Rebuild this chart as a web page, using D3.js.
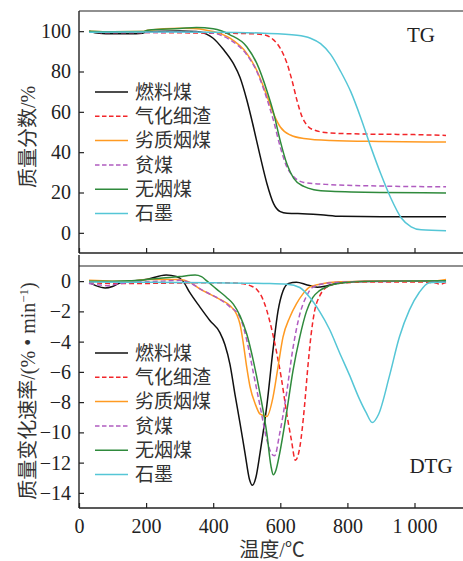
<!DOCTYPE html>
<html>
<head>
<meta charset="utf-8">
<script src="https://cdn.jsdelivr.net/npm/d3@7"></script>
<style>
  body { margin: 0; background: #fff; }
  svg { display: block; }
</style>
</head>
<body>
<div id="chart"></div>
<script>
const W = 463, H = 561;
const serif = "'Liberation Serif', 'Times New Roman', 'Noto Sans CJK SC', serif";

// series names (legend order)
const names = ["燃料煤", "气化细渣", "劣质烟煤", "贫煤", "无烟煤", "石墨"];
const colors = ["#111111", "#f2262a", "#ff9a22", "#b05cc0", "#2f8a3c", "#55c6d6"];
const dashed = [false, true, false, true, false, false];

const xTicks = [0, 200, 400, 600, 800, 1000];
const xTickLabels = ["0", "200", "400", "600", "800", "1 000"];
const tgTicks = [0, 20, 40, 60, 80, 100];
const dtgTicks = [0, -2, -4, -6, -8, -10, -12, -14];

// TG, mass fraction (%) vs temperature (°C)
const tgFuel = [[30,100],[60,99],[100,98.7],[150,98.7],[190,99],[205,99.8],[300,100.1],[350,99.8],[380,98.5],[400,96.5],[430,91],[460,84],[480,77],[500,66],[520,52.5],[540,38],[560,24.5],[580,14.5],[600,10.5],[620,9.7],[680,9.4],[720,9],[780,8.2],[900,8],[1094,8]];
const tgSlag = [[30,99.5],[100,99.3],[200,99.3],[300,99.2],[400,99],[500,98.8],[550,98.2],[580,95.7],[600,91.5],[620,84],[635,75.5],[650,65.5],[665,57.5],[680,53.3],[700,51],[750,49.5],[850,49],[1000,48.7],[1094,48.3]];
const tgPoor = [[30,100],[100,99.7],[190,99.8],[205,100.5],[300,101.5],[340,101.3],[380,100.5],[400,99.8],[450,96.5],[500,89],[530,80.5],[560,68],[580,59],[600,52.5],[630,48.5],[670,46.8],[750,45.8],[900,45.3],[1094,45]];
const tgLean = [[30,99.5],[100,99.3],[200,99.3],[300,99.5],[350,99.5],[400,99],[450,95.7],[500,88.3],[530,80],[560,66.5],[580,55.5],[600,42.5],[620,32.5],[640,27.8],[670,25],[750,23.9],[900,23.2],[1094,22.8]];
const tgAnth = [[30,100],[100,99.7],[190,99.8],[205,100.5],[300,101.3],[350,101.8],[400,101.2],[450,98.2],[500,92.3],[530,84],[560,70.5],[580,59.5],[600,45.5],[620,34],[640,27],[670,23],[700,21.4],[750,20.6],[900,20],[1094,19.8]];
const tgGraphite = [[30,99.5],[200,99.6],[400,99.5],[550,99],[650,98],[690,96.5],[720,93.8],[750,88.5],[780,80],[810,70],[840,57],[870,42.5],[900,29],[930,17],[960,7.5],[990,3],[1020,1.5],[1094,1]];

// DTG, mass loss rate (%/min) vs temperature (°C)
const dtgFuel = [[30,-0.1],[50,-0.3],[78,-0.45],[100,-0.35],[125,-0.1],[200,0.1],[260,0.4],[290,0.3],[310,0],[330,-0.75],[360,-1.7],[390,-2.6],[420,-3.4],[435,-4.2],[450,-5.5],[465,-7.5],[480,-9.4],[495,-11.4],[508,-13.1],[517,-13.5],[527,-13],[540,-11.3],[560,-8.2],[578,-4.6],[593,-2],[608,-0.65],[625,-0.15],[648,-0.08],[680,-0.25],[710,-0.4],[740,-0.3],[780,-0.1],[850,0],[1094,0]];
const dtgSlag = [[30,-0.1],[100,-0.15],[200,-0.15],[300,-0.12],[400,-0.1],[480,-0.15],[510,-0.3],[530,-0.55],[550,-1.3],[568,-2.6],[588,-4.6],[603,-6.4],[618,-8.6],[633,-10.5],[645,-11.85],[658,-11],[672,-8.3],[682,-5.7],[692,-3.5],[702,-2],[717,-1],[747,-0.3],[800,-0.1],[900,-0.05],[1000,-0.05],[1060,-0.1],[1075,-0.2],[1094,-0.1]];
const dtgPoor = [[30,0.05],[100,0],[150,0],[200,0.1],[250,0.1],[300,0.1],[331,-0.08],[361,-0.53],[390,-0.86],[420,-1.2],[450,-1.63],[470,-2.2],[480,-2.85],[490,-4.15],[500,-5.7],[510,-7],[525,-8.1],[540,-8.8],[560,-8.95],[578,-7.7],[593,-5.7],[608,-3.7],[628,-2.4],[648,-1.5],[667,-0.86],[687,-0.4],[717,-0.2],[776,-0.04],[900,0],[1050,0],[1094,0.1]];
const dtgLean = [[30,-0.15],[60,-0.25],[85,-0.3],[110,-0.2],[150,-0.1],[250,0],[300,0.05],[330,-0.1],[360,-0.5],[390,-0.85],[420,-1.2],[450,-1.7],[480,-2.4],[500,-3.9],[520,-6.1],[540,-8.3],[560,-10.5],[575,-11.45],[583,-11.55],[598,-10.1],[618,-7.5],[638,-4.4],[658,-2.2],[678,-1],[697,-0.4],[737,-0.15],[800,-0.05],[1094,0]];
const dtgAnth = [[30,0],[100,0],[150,0.02],[200,0.1],[250,0.2],[300,0.3],[346,0.4],[365,0.3],[380,0.03],[410,-0.53],[440,-1.08],[460,-1.52],[480,-2.3],[500,-3.5],[520,-5.3],[540,-7.5],[560,-10.1],[572,-12.2],[579,-12.8],[587,-12.5],[598,-11.4],[618,-8.8],[638,-5.9],[658,-3.7],[678,-2],[697,-1.08],[717,-0.63],[747,-0.3],[796,-0.09],[900,0],[1094,0.02]];
const dtgGraphite = [[30,-0.05],[200,-0.08],[400,-0.1],[550,-0.15],[620,-0.2],[658,-0.42],[687,-1.05],[717,-2],[747,-3.2],[776,-4.7],[806,-6.2],[836,-7.8],[856,-8.7],[874,-9.35],[893,-8.8],[925,-6.3],[955,-3.7],[985,-1.9],[1014,-0.75],[1044,-0.1],[1094,-0.05]];

const tgSeries = [tgFuel, tgSlag, tgPoor, tgLean, tgAnth, tgGraphite];
const dtgSeries = [dtgFuel, dtgSlag, dtgPoor, dtgLean, dtgAnth, dtgGraphite];

const left = 79, right = 470;
const x = d3.scaleLinear().domain([0, 1000]).range([left, 414.5]);

const svg = d3.select("#chart").append("svg")
  .attr("width", W).attr("height", H)
  .attr("viewBox", `0 0 ${W} ${H}`);

function panel(opts) {
  const { top, bottom, domain, ticks, series, tag, tagY, legendY, title, titleY, showXLabels } = opts;
  const y = d3.scaleLinear().domain(domain).range([bottom, top]);
  const g = svg.append("g");

  // frame: left, top, bottom
  g.append("line").attr("x1", left).attr("x2", left)
    .attr("y1", opts.axisTop).attr("y2", bottom)
    .attr("stroke", "#222").attr("stroke-width", 1.4);
  g.append("line").attr("x1", left).attr("x2", right)
    .attr("y1", top).attr("y2", top)
    .attr("stroke", "#222").attr("stroke-width", 1.2);

  // y axis, ticks inward
  const ya = g.append("g").attr("transform", `translate(${left},0)`)
    .call(d3.axisLeft(y).tickValues(ticks).tickSize(-5).tickPadding(8));
  ya.select(".domain").remove();
  ya.selectAll("line").attr("stroke", "#222").attr("stroke-width", 1.2);
  ya.selectAll("text").attr("font-family", serif).attr("font-size", 20).attr("fill", "#222");

  // x axis, ticks inward
  const xa = g.append("g").attr("transform", `translate(0,${bottom})`)
    .call(d3.axisBottom(x).tickValues(xTicks).tickSize(-5).tickPadding(11)
      .tickFormat((d, i) => showXLabels ? xTickLabels[i] : ""));
  xa.select(".domain").attr("d", `M${left},0H${right}`).attr("stroke", "#222").attr("stroke-width", 1.4);
  xa.selectAll("line").attr("stroke", "#222").attr("stroke-width", 1.2);
  xa.selectAll("text").attr("font-family", serif).attr("font-size", 20).attr("fill", "#222");

  // curves
  const line = d3.line().x(d => x(d[0])).y(d => y(d[1])).curve(d3.curveMonotoneX);
  series.forEach((s, i) => {
    g.append("path").datum(s)
      .attr("d", line)
      .attr("fill", "none")
      .attr("stroke", colors[i])
      .attr("stroke-width", 1.5)
      .attr("stroke-dasharray", dashed[i] ? "5,3" : null);
  });

  // legend
  const lg = g.append("g");
  names.forEach((n, i) => {
    const yy = legendY + i * 24.3;
    lg.append("line").attr("x1", 95).attr("x2", 128).attr("y1", yy).attr("y2", yy)
      .attr("stroke", colors[i]).attr("stroke-width", 1.5)
      .attr("stroke-dasharray", dashed[i] ? "4.5,2.5" : null);
    lg.append("text").attr("x", 135).attr("y", yy).attr("dy", "0.36em")
      .attr("font-family", serif).attr("font-size", 19).attr("fill", "#333")
      .text(n);
  });

  // panel tag
  g.append("text").attr("x", tag === "TG" ? 421 : 431).attr("y", tagY)
    .attr("text-anchor", "middle")
    .attr("font-family", serif).attr("font-size", 21).attr("fill", "#222")
    .text(tag);

  // y title
  g.append("text")
    .attr("transform", `translate(28,${titleY}) rotate(-90)`)
    .attr("text-anchor", "middle").attr("dy", "0.35em")
    .attr("font-family", serif).attr("font-size", 20).attr("fill", "#333")
    .html(title);
}

panel({
  top: 11, bottom: 253, axisTop: 11, domain: [-10, 110], ticks: tgTicks,
  series: tgSeries, tag: "TG", tagY: 42, legendY: 92,
  title: "质量分数/%", titleY: 137, showXLabels: false
});

panel({
  top: 266, bottom: 508, axisTop: 255, domain: [-15, 1], ticks: dtgTicks,
  series: dtgSeries, tag: "DTG", tagY: 473, legendY: 353,
  title: "质量变化速率/(% • min<tspan dy='-7' font-size='13'>−1</tspan><tspan dy='7'>)</tspan>",
  titleY: 391, showXLabels: true
});

// x title
svg.append("text").attr("x", 272).attr("y", 550).attr("dy", "0.35em")
  .attr("text-anchor", "middle")
  .attr("font-family", serif).attr("font-size", 20).attr("fill", "#333")
  .text("温度/℃");
</script>
</body>
</html>
